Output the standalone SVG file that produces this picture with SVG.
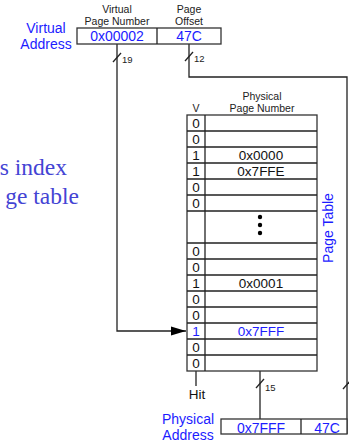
<svg xmlns="http://www.w3.org/2000/svg" width="349" height="444" viewBox="0 0 349 444">
<defs>
<marker id="arr" markerWidth="15" markerHeight="10" refX="15" refY="5" orient="auto" markerUnits="userSpaceOnUse">
<path d="M0,0.5 L15,5 L0,9.5 Z" fill="#000"/>
</marker>
<style>
.ln{fill:none;stroke:#222;stroke-width:1.3}
.bx{fill:#fff;stroke:#333;stroke-width:1.3}
.sm{font-family:"Liberation Sans",Arial,sans-serif;font-size:10.5px;fill:#222;text-anchor:middle}
.bl{font-family:"Liberation Sans",Arial,sans-serif;font-size:14px;fill:#1c1cff;text-anchor:middle}
.tx{font-family:"Liberation Sans",Arial,sans-serif;font-size:13.5px;fill:#111;text-anchor:middle}
.tb{font-family:"Liberation Sans",Arial,sans-serif;font-size:13.5px;fill:#1c1cff;text-anchor:middle}
.bw{font-family:"Liberation Sans",Arial,sans-serif;font-size:9.5px;fill:#222}
.sf{font-family:"Liberation Serif","Times New Roman",serif;font-size:23.5px;fill:#4444d4;text-anchor:end}
</style>
</defs>
<rect width="349" height="444" fill="#fff"/>

<g id="caption">
<text class="sf" x="67" y="175">s index</text>
<text class="sf" x="79" y="204">ge table</text>
</g>

<g id="connectors">
<polyline class="ln" points="117,44 117,331 186,331" marker-end="url(#arr)"/>
<polyline class="ln" points="189,44 189,77 347,77 347,434"/>
<line class="ln" x1="260" y1="371" x2="260" y2="419"/>
<line class="ln" x1="196" y1="371" x2="196" y2="386"/>
<line class="ln" x1="113" y1="62" x2="121" y2="53"/>
<line class="ln" x1="185" y1="61" x2="193" y2="52"/>
<line class="ln" x1="256" y1="388" x2="264" y2="379"/>
<line class="ln" x1="343" y1="389" x2="350" y2="381"/>
<text class="bw" x="122" y="63">19</text>
<text class="bw" x="194" y="62">12</text>
<text class="bw" x="265" y="391">15</text>
</g>

<g id="virtual-address">
<text class="bl" x="46" y="33">Virtual</text>
<text class="bl" x="46" y="49">Address</text>
<text class="sm" x="117" y="13">Virtual</text>
<text class="sm" x="117" y="25">Page Number</text>
<text class="sm" x="189" y="13">Page</text>
<text class="sm" x="189" y="25">Offset</text>
<rect class="bx" x="77" y="28" width="144" height="16"/>
<line class="ln" x1="157" y1="28" x2="157" y2="44"/>
<text class="bl" x="117" y="41">0x00002</text>
<text class="bl" x="189" y="41">47C</text>
</g>

<g id="page-table">
<text class="sm" x="196" y="112">V</text>
<text class="sm" x="262" y="100">Physical</text>
<text class="sm" x="262" y="112">Page Number</text>
<rect class="bx" x="187" y="115" width="130" height="256"/>
<line class="ln" x1="205" y1="115" x2="205" y2="371"/>
<path class="ln" d="M187,131H317M187,147H317M187,163H317M187,179H317M187,195H317M187,211H317M187,243H317M187,259H317M187,275H317M187,291H317M187,307H317M187,323H317M187,339H317M187,355H317"/>
<text class="tx" x="196" y="128">0</text>
<text class="tx" x="196" y="144">0</text>
<text class="tx" x="196" y="160">1</text>
<text class="tx" x="261" y="160">0x0000</text>
<text class="tx" x="196" y="176">1</text>
<text class="tx" x="261" y="176">0x7FFE</text>
<text class="tx" x="196" y="192">0</text>
<text class="tx" x="196" y="208">0</text>
<circle cx="260" cy="217" r="2.2" fill="#000"/>
<circle cx="260" cy="225" r="2.2" fill="#000"/>
<circle cx="260" cy="233" r="2.2" fill="#000"/>
<text class="tx" x="196" y="256">0</text>
<text class="tx" x="196" y="272">0</text>
<text class="tx" x="196" y="288">1</text>
<text class="tx" x="261" y="288">0x0001</text>
<text class="tx" x="196" y="304">0</text>
<text class="tx" x="196" y="320">0</text>
<text class="tb" x="196" y="336">1</text>
<text class="tb" x="261" y="336">0x7FFF</text>
<text class="tx" x="196" y="352">0</text>
<text class="tx" x="196" y="368">0</text>
<text class="bl" transform="translate(333,228) rotate(-90)" x="0" y="0">Page Table</text>
</g>

<g id="hit">
<text class="tx" x="197" y="399">Hit</text>
</g>

<g id="physical-address">
<text class="bl" x="188" y="424">Physical</text>
<text class="bl" x="188" y="440">Address</text>
<rect class="bx" x="221" y="419" width="126" height="15"/>
<line class="ln" x1="301" y1="419" x2="301" y2="434"/>
<text class="bl" x="261" y="433">0x7FFF</text>
<text class="bl" x="327" y="433">47C</text>
</g>
</svg>
